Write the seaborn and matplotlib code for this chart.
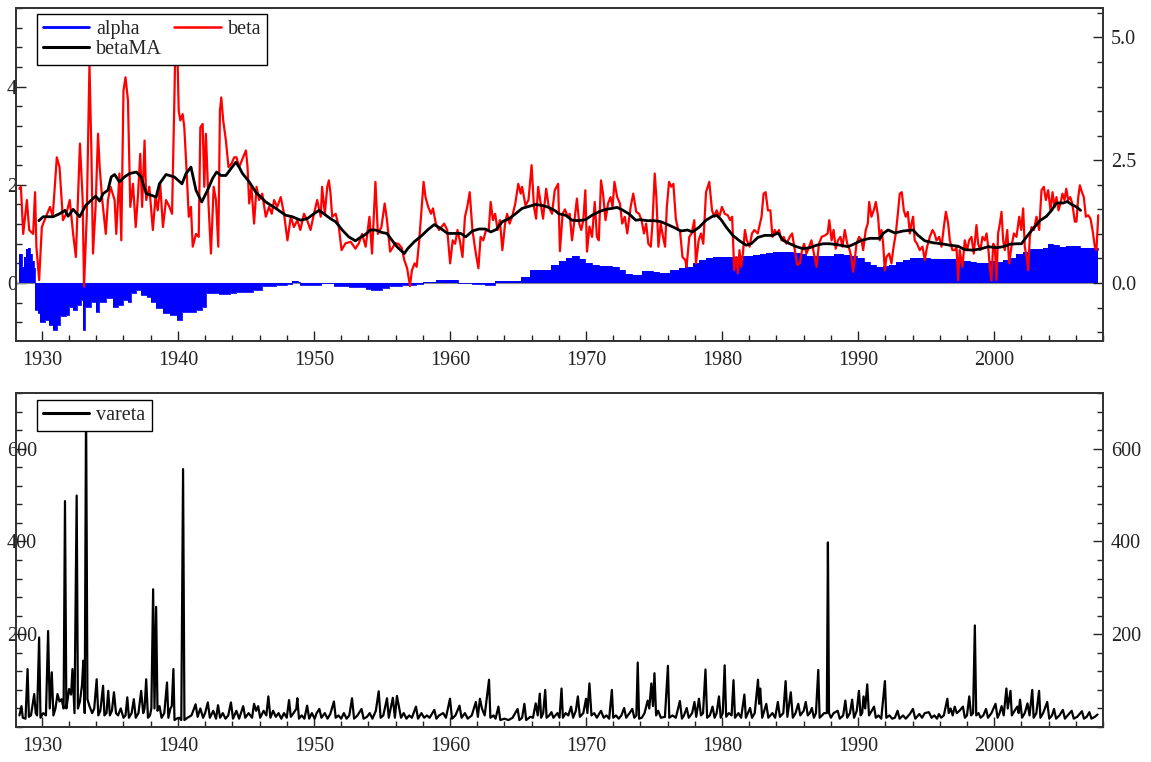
import matplotlib.pyplot as plt
import seaborn as sns
from matplotlib.ticker import MultipleLocator

# ---- data (decimal years) ----
beta_year = [
    1928.35, 1928.46, 1928.63, 1928.9, 1929.07, 1929.36, 1929.5, 1929.6, 1929.8, 1930.0,
    1930.3, 1930.6, 1930.8, 1931.1, 1931.3, 1931.55, 1931.8, 1932.05, 1932.3, 1932.5,
    1932.8, 1933.0, 1933.1, 1933.3, 1933.5, 1933.64, 1933.76, 1933.95, 1934.13, 1934.25,
    1934.44, 1934.7, 1934.86, 1935.05, 1935.35, 1935.47, 1935.7, 1935.84, 1936.0, 1936.15,
    1936.33, 1936.5, 1936.7, 1936.9, 1937.06, 1937.23, 1937.37, 1937.55, 1937.67, 1937.9,
    1938.16, 1938.35, 1938.52, 1938.7, 1938.9, 1939.13, 1939.38, 1939.57, 1939.74, 1939.82,
    1939.94, 1940.06, 1940.18, 1940.35, 1940.47, 1940.65, 1940.8, 1940.96, 1941.09, 1941.33,
    1941.53, 1941.65, 1941.82, 1941.94, 1942.06, 1942.26, 1942.43, 1942.63, 1942.8, 1942.97,
    1943.09, 1943.19, 1943.33, 1943.53, 1943.72, 1943.94, 1944.14, 1944.31, 1944.5, 1944.75,
    1945.0, 1945.12, 1945.24, 1945.4, 1945.6, 1945.78, 1945.97, 1946.2, 1946.46, 1946.7,
    1946.9, 1947.07, 1947.3, 1947.56, 1947.8, 1948.05, 1948.3, 1948.53, 1948.78, 1949.0,
    1949.27, 1949.5, 1949.75, 1950.0, 1950.24, 1950.5, 1950.6, 1950.8, 1950.98, 1951.1,
    1951.22, 1951.34, 1951.6, 1951.83, 1952.03, 1952.32, 1952.7, 1953.05, 1953.3, 1953.54,
    1953.8, 1954.08, 1954.27, 1954.52, 1954.7, 1954.96, 1955.2, 1955.37, 1955.6, 1955.98,
    1956.2, 1956.45, 1956.64, 1956.85, 1957.06, 1957.2, 1957.4, 1957.55, 1957.74, 1958.06,
    1958.2, 1958.4, 1958.6, 1958.75, 1958.96, 1959.2, 1959.57, 1959.8, 1960.01, 1960.2,
    1960.38, 1960.55, 1960.72, 1960.92, 1961.1, 1961.27, 1961.45, 1961.65, 1961.9, 1962.09,
    1962.25, 1962.45, 1962.65, 1962.85, 1962.99, 1963.16, 1963.32, 1963.5, 1963.67, 1963.85,
    1964.05, 1964.2, 1964.38, 1964.57, 1964.8, 1965.02, 1965.2, 1965.3, 1965.55, 1965.77,
    1966.0, 1966.17, 1966.33, 1966.48, 1966.65, 1966.84, 1967.07, 1967.26, 1967.5, 1967.7,
    1967.95, 1968.08, 1968.28, 1968.45, 1968.65, 1968.8, 1968.97, 1969.15, 1969.33, 1969.5,
    1969.65, 1969.8, 1969.95, 1970.07, 1970.25, 1970.44, 1970.64, 1970.8, 1970.94, 1971.1,
    1971.25, 1971.43, 1971.62, 1971.8, 1971.95, 1972.09, 1972.29, 1972.49, 1972.66, 1972.85,
    1973.03, 1973.28, 1973.47, 1973.69, 1973.9, 1974.08, 1974.26, 1974.42, 1974.58, 1974.76,
    1974.88, 1975.05, 1975.17, 1975.32, 1975.49, 1975.66, 1975.81, 1975.94, 1976.1, 1976.27,
    1976.42, 1976.6, 1976.77, 1976.9, 1977.09, 1977.29, 1977.39, 1977.59, 1977.76, 1977.96,
    1978.08, 1978.28, 1978.45, 1978.62, 1978.82, 1979.06, 1979.26, 1979.43, 1979.6, 1979.8,
    1979.99, 1980.2, 1980.42, 1980.59, 1980.74, 1980.89, 1981.04, 1981.16, 1981.28, 1981.4,
    1981.53, 1981.68, 1981.82, 1982.02, 1982.2, 1982.37, 1982.62, 1982.9, 1983.05, 1983.2,
    1983.37, 1983.55, 1983.7, 1983.87, 1983.99, 1984.19, 1984.36, 1984.53, 1984.73, 1984.98,
    1985.15, 1985.35, 1985.52, 1985.71, 1985.88, 1986.03, 1986.2, 1986.4, 1986.57, 1986.75,
    1986.95, 1987.12, 1987.32, 1987.56, 1987.76, 1987.88, 1988.05, 1988.2, 1988.35, 1988.52,
    1988.7, 1988.85, 1989.02, 1989.2, 1989.38, 1989.5, 1989.63, 1989.75, 1989.88, 1990.07,
    1990.25, 1990.37, 1990.56, 1990.71, 1990.81, 1990.98, 1991.15, 1991.3, 1991.47, 1991.59,
    1991.72, 1991.84, 1991.96, 1992.08, 1992.28, 1992.45, 1992.57, 1992.77, 1992.92, 1993.06,
    1993.21, 1993.36, 1993.5, 1993.65, 1993.8, 1993.92, 1994.04, 1994.16, 1994.33, 1994.53,
    1994.73, 1994.9, 1995.07, 1995.27, 1995.47, 1995.61, 1995.76, 1995.96, 1996.13, 1996.3,
    1996.45, 1996.62, 1996.74, 1996.93, 1997.11, 1997.23, 1997.35, 1997.47, 1997.67, 1997.84,
    1998.01, 1998.16, 1998.33, 1998.5, 1998.7, 1998.82, 1998.99, 1999.14, 1999.31, 1999.44,
    1999.56, 1999.68, 1999.8, 1999.93, 2000.05, 2000.17, 2000.29, 2000.42, 2000.54, 2000.66,
    2000.78, 2000.96, 2001.1, 2001.27, 2001.45, 2001.64, 2001.84, 2001.99, 2002.13, 2002.25,
    2002.38, 2002.5, 2002.62, 2002.75, 2002.92, 2003.11, 2003.31, 2003.48, 2003.65, 2003.8,
    2003.97, 2004.14, 2004.29, 2004.44, 2004.58, 2004.73, 2004.87, 2005.02, 2005.17, 2005.3,
    2005.44, 2005.59, 2005.74, 2005.93, 2006.05, 2006.18, 2006.3, 2006.45, 2006.59, 2006.74,
    2006.91, 2007.08, 2007.23, 2007.4, 2007.52, 2007.65,
]
beta = [
    1.92, 1.96, 1.0, 1.69, 1.08, 1.0, 1.85, 0.74, 0.06, 1.14,
    1.35, 1.55, 1.35, 2.56, 2.36, 1.28, 1.41, 1.69, 1.0, 0.53,
    2.84, 1.69, -0.07, 1.35, 4.46, 2.7, 0.6, 1.55, 3.04, 2.36,
    1.69, 1.0, 1.69, 1.96, 1.69, 1.0, 2.23, 0.87, 3.92, 4.19,
    3.72, 1.55, 2.02, 1.14, 1.75, 2.63, 1.55, 2.9, 1.69, 1.96,
    1.08, 1.75, 1.48, 2.02, 1.14, 1.69, 1.55, 1.41, 3.72, 4.93,
    5.0, 3.51, 3.31, 3.44, 3.17, 2.23, 1.35, 1.55, 0.74, 1.0,
    0.94, 3.17, 3.24, 1.96, 3.04, 1.55, 0.6, 1.96, 1.69, 0.74,
    3.51, 3.78, 3.31, 2.9, 2.36, 2.43, 2.56, 2.56, 2.36, 2.53,
    2.7, 2.36, 1.62, 1.96, 1.21, 1.96, 1.69, 1.82, 1.35, 1.55,
    1.41, 1.69, 1.55, 1.75, 1.41, 0.87, 1.35, 1.14, 1.28, 1.08,
    1.41, 1.28, 1.08, 1.41, 1.69, 1.35, 1.96, 1.41, 1.96, 2.09,
    1.82, 1.35, 1.41, 1.14, 0.67, 0.81, 0.84, 0.7, 0.81, 1.0,
    0.74, 1.35, 0.6, 2.06, 1.0, 1.14, 1.62, 1.28, 0.64, 0.81,
    0.8, 0.72, 0.47, 0.3, -0.06, 0.26, 0.4, 0.33, 0.87, 2.06,
    1.75, 1.55, 1.41, 1.52, 1.21, 1.08, 1.21, 1.08, 0.4, 0.87,
    0.8, 1.08, 0.87, 0.53, 1.35, 1.55, 1.85, 1.08, 0.6, 0.3,
    0.94, 0.87, 1.08, 1.08, 1.65, 1.28, 1.41, 1.08, 1.28, 0.67,
    1.21, 1.41, 1.21, 1.35, 1.62, 2.02, 1.82, 1.96, 1.58, 1.69,
    2.4, 1.55, 1.31, 1.96, 1.65, 1.31, 1.92, 1.55, 1.41, 1.89,
    2.02, 0.65, 1.41, 1.5, 1.35, 1.41, 0.87, 1.28, 1.72, 1.21,
    1.08, 1.28, 1.89, 0.64, 1.15, 0.94, 1.65, 0.94, 0.87, 2.09,
    1.82, 1.28, 1.62, 1.75, 1.55, 2.06, 1.75, 1.62, 1.21, 1.35,
    1.01, 1.55, 1.82, 1.45, 1.41, 1.28, 1.01, 1.21, 0.8, 0.74,
    1.21, 2.23, 1.75, 0.74, 1.21, 0.94, 0.74, 1.55, 2.06, 1.96,
    2.02, 1.31, 1.08, 1.08, 0.53, 0.47, 0.33, 0.94, 1.01, 1.28,
    0.4, 0.87, 1.01, 0.8, 1.85, 2.06, 1.48, 1.35, 1.48, 1.35,
    1.55, 1.41, 1.38, 1.28, 1.35, 0.26, 0.53, 0.2, 0.67, 0.33,
    0.6, 1.08, 0.87, 0.74, 1.01, 1.08, 1.01, 1.35, 1.82, 1.85,
    1.48, 1.48, 0.94, 1.08, 1.01, 1.08, 0.87, 0.94, 0.8, 0.94,
    1.01, 0.67, 0.37, 0.4, 0.67, 0.8, 0.6, 0.74, 0.87, 0.6,
    0.33, 0.8, 0.94, 0.97, 1.01, 1.28, 0.87, 1.08, 0.7, 0.87,
    0.94, 0.74, 1.08, 0.8, 0.67, 0.53, 0.23, 0.47, 0.8, 0.94,
    0.87, 0.67, 1.08, 1.21, 1.65, 1.35, 1.48, 1.65, 1.35, 0.87,
    1.08, 0.8, 0.26, 0.53, 0.6, 0.4, 0.67, 1.01, 1.41, 1.82,
    1.85, 1.48, 1.35, 1.45, 1.01, 1.21, 1.35, 0.87, 0.8, 0.67,
    0.74, 0.47, 0.74, 0.94, 1.08, 1.01, 0.87, 0.94, 0.74, 1.14,
    1.45, 1.21, 0.87, 0.67, 0.67, 0.74, 0.06, 0.67, 0.33, 0.87,
    0.67, 0.87, 0.94, 0.6, 1.18, 0.8, 0.67, 0.94, 0.87, 1.01,
    0.74, 0.33, 0.05, 0.8, 0.74, 0.06, 1.01, 1.21, 1.45, 0.87,
    0.67, 1.08, 0.4, 0.74, 1.01, 0.94, 1.35, 1.08, 1.52, 0.74,
    0.53, 0.26, 0.94, 1.14, 1.08, 1.35, 1.08, 1.89, 1.96, 1.69,
    1.89, 1.48, 1.85, 1.55, 1.75, 1.48, 1.62, 1.82, 1.69, 1.92,
    1.69, 1.75, 1.62, 1.25, 1.25, 1.75, 1.99, 1.85, 1.75, 1.35,
    1.38, 1.31, 1.08, 0.74, 0.67, 1.38,
]

ma_year = [
    1929.78, 1930.1, 1930.83, 1931.3, 1931.7, 1931.93, 1932.3, 1932.78, 1933.22, 1933.64,
    1933.96, 1934.25, 1934.5, 1934.86, 1935.1, 1935.35, 1935.7, 1936.07, 1936.45, 1936.94,
    1937.3, 1937.67, 1938.03, 1938.4, 1938.64, 1939.13, 1939.74, 1940.3, 1940.6, 1940.96,
    1941.33, 1941.75, 1942.18, 1942.55, 1942.84, 1943.16, 1943.53, 1943.9, 1944.26, 1944.5,
    1944.75, 1945.24, 1945.73, 1946.46, 1947.2, 1947.92, 1948.41, 1949.02, 1949.5, 1950.0,
    1950.37, 1950.73, 1951.22, 1951.59, 1952.08, 1952.56, 1953.05, 1953.42, 1953.79, 1954.15,
    1954.52, 1955.0, 1955.37, 1955.74, 1956.1, 1956.64, 1956.89, 1957.37, 1957.86, 1958.35,
    1958.84, 1959.33, 1959.82, 1960.3, 1960.8, 1961.16, 1961.65, 1962.14, 1962.6, 1963.0,
    1963.4, 1963.85, 1964.33, 1964.82, 1965.3, 1965.8, 1966.29, 1966.78, 1967.26, 1967.75,
    1968.0, 1968.5, 1968.97, 1969.45, 1969.95, 1970.44, 1970.94, 1971.43, 1971.92, 1972.29,
    1972.66, 1973.15, 1973.65, 1974.0, 1974.5, 1975.0, 1975.49, 1976.0, 1976.48, 1976.97,
    1977.46, 1977.83, 1978.33, 1978.82, 1979.31, 1979.6, 1979.93, 1980.3, 1980.79, 1981.28,
    1981.77, 1982.14, 1982.64, 1983.13, 1983.74, 1984.11, 1984.48, 1984.98, 1985.47, 1985.96,
    1986.45, 1986.95, 1987.44, 1987.93, 1988.5, 1989.26, 1989.75, 1990.25, 1990.86, 1991.6,
    1991.84, 1992.2, 1992.7, 1993.31, 1994.04, 1994.41, 1994.9, 1995.51, 1996.13, 1996.74,
    1997.35, 1997.84, 1998.46, 1999.07, 1999.56, 2000.17, 2000.66, 2001.15, 2001.64, 2002.01,
    2002.38, 2002.87, 2003.36, 2003.85, 2004.22, 2004.58, 2005.07, 2005.37, 2005.69, 2006.05,
    2006.35,
]
beta_ma = [
    1.27, 1.35, 1.35, 1.41, 1.48, 1.36, 1.5, 1.35, 1.58, 1.69,
    1.77, 1.67, 1.82, 1.89, 2.16, 2.21, 2.06, 2.16, 2.23, 2.26,
    2.16, 1.82, 1.79, 1.75, 2.02, 2.21, 2.16, 2.02, 2.23, 2.36,
    1.89, 1.65, 1.89, 2.13, 2.26, 2.19, 2.19, 2.33, 2.46, 2.36,
    2.23, 2.06, 1.85, 1.65, 1.52, 1.38, 1.35, 1.28, 1.31, 1.41,
    1.48, 1.41, 1.31, 1.25, 1.08, 0.94, 0.86, 0.93, 0.99, 1.08,
    1.08, 1.03, 1.01, 0.87, 0.74, 0.6, 0.7, 0.84, 0.95, 1.08,
    1.19, 1.11, 1.01, 1.01, 1.01, 0.94, 1.06, 1.1, 1.1, 1.04,
    1.09, 1.25, 1.31, 1.41, 1.52, 1.56, 1.6, 1.58, 1.54, 1.47,
    1.41, 1.38, 1.28, 1.27, 1.29, 1.38, 1.45, 1.5, 1.52, 1.54,
    1.49, 1.41, 1.28, 1.29, 1.27, 1.27, 1.25, 1.19, 1.13, 1.06,
    1.08, 1.04, 1.14, 1.28, 1.36, 1.38, 1.29, 1.14, 0.97, 0.86,
    0.77, 0.8, 0.93, 0.97, 0.97, 1.02, 0.87, 0.8, 0.74, 0.7,
    0.72, 0.77, 0.8, 0.8, 0.78, 0.74, 0.8, 0.87, 0.91, 0.91,
    1.01, 1.08, 1.02, 1.06, 1.08, 0.97, 0.86, 0.82, 0.8, 0.77,
    0.75, 0.68, 0.67, 0.7, 0.74, 0.72, 0.74, 0.79, 0.8, 0.8,
    0.94, 1.11, 1.27, 1.36, 1.48, 1.63, 1.63, 1.66, 1.6, 1.55,
    1.48,
]

alpha_year = [
    1928.35, 1928.55, 1928.7, 1928.85, 1929.0, 1929.15, 1929.3, 1929.4, 1929.52, 1929.7,
    1929.9, 1930.2, 1930.5, 1930.8, 1931.1, 1931.3, 1931.8, 1932.0, 1932.3, 1932.6,
    1932.9, 1933.05, 1933.2, 1933.6, 1934.0, 1934.2, 1934.7, 1935.2, 1935.6, 1936.0,
    1936.3, 1936.57, 1936.9, 1937.3, 1937.7, 1938.0, 1938.4, 1938.9, 1939.4, 1939.9,
    1940.3, 1940.8, 1941.33, 1941.8, 1942.06, 1943.0, 1943.8, 1944.3, 1945.0, 1945.5,
    1946.2, 1947.2, 1948.0, 1948.4, 1948.8, 1949.0, 1950.5, 1951.5, 1952.6, 1953.8,
    1954.2, 1955.0, 1955.5, 1956.5, 1957.5, 1958.0, 1959.0, 1960.6, 1961.6, 1962.6,
    1963.0, 1963.3, 1965.2, 1965.9, 1967.4, 1968.0, 1968.5, 1969.0, 1969.5, 1969.95,
    1970.44, 1970.94, 1971.9, 1972.4, 1972.9, 1973.4, 1974.1, 1974.9, 1975.4, 1976.2,
    1976.85, 1977.3, 1977.83, 1978.3, 1978.8, 1979.3, 1980.3, 1981.3, 1982.3, 1982.8,
    1983.25, 1983.75, 1984.7, 1985.2, 1985.7, 1986.2, 1986.7, 1987.7, 1988.2, 1988.9,
    1989.4, 1989.9, 1990.4, 1990.86, 1991.35, 1991.84, 1992.3, 1992.8, 1993.3, 1993.8,
    1994.3, 1994.8, 1995.27, 1996.25, 1997.2, 1997.7, 1998.2, 1998.7, 1999.2, 1999.7,
    2000.17, 2000.66, 2001.15, 2001.64, 2002.1, 2002.6, 2003.6, 2003.97, 2004.3, 2004.8,
    2005.3, 2006.3, 2007.3, 2007.65,
]
alpha = [
    0.6, 0.33, 0.53, 0.7, 0.72, 0.6, 0.45, 0.3, -0.55, -0.62,
    -0.79, -0.75, -0.85, -0.95, -0.85, -0.68, -0.65, -0.48, -0.55, -0.45,
    -0.35, -0.95, -0.48, -0.38, -0.58, -0.38, -0.31, -0.48, -0.45, -0.35,
    -0.38, -0.21, -0.14, -0.24, -0.28, -0.38, -0.51, -0.62, -0.65, -0.76,
    -0.58, -0.58, -0.55, -0.48, -0.21, -0.22, -0.21, -0.18, -0.18, -0.14,
    -0.07, -0.04, -0.02, 0.05, 0.03, -0.03, 0.0, -0.06, -0.08, -0.13,
    -0.15, -0.1, -0.07, -0.05, -0.01, 0.03, 0.06, 0.0, -0.02, -0.03,
    -0.05, 0.04, 0.12, 0.26, 0.36, 0.45, 0.5, 0.55, 0.48, 0.41,
    0.37, 0.35, 0.33, 0.26, 0.18, 0.16, 0.25, 0.23, 0.21, 0.26,
    0.3, 0.33, 0.4, 0.47, 0.52, 0.53, 0.53, 0.55, 0.57, 0.59,
    0.62, 0.64, 0.63, 0.62, 0.59, 0.56, 0.55, 0.56, 0.6, 0.57,
    0.55, 0.5, 0.43, 0.37, 0.33, 0.35, 0.37, 0.43, 0.47, 0.5,
    0.52, 0.5, 0.48, 0.49, 0.47, 0.45, 0.43, 0.4, 0.41, 0.45,
    0.43, 0.47, 0.52, 0.59, 0.64, 0.7, 0.72, 0.79, 0.77, 0.74,
    0.75, 0.72, 0.72, 0.67,
]

var_year = [
    1928.35, 1928.5, 1928.6, 1928.8, 1928.95, 1929.05, 1929.2, 1929.44, 1929.55, 1929.65,
    1929.8, 1929.9, 1930.1, 1930.3, 1930.46, 1930.58, 1930.73, 1930.85, 1931.0, 1931.15,
    1931.3, 1931.45, 1931.6, 1931.7, 1931.8, 1931.9, 1932.0, 1932.15, 1932.25, 1932.4,
    1932.56, 1932.65, 1932.8, 1932.95, 1933.05, 1933.15, 1933.25, 1933.35, 1933.5, 1933.7,
    1933.85, 1934.03, 1934.15, 1934.3, 1934.5, 1934.6, 1934.75, 1934.88, 1935.0, 1935.15,
    1935.3, 1935.45, 1935.6, 1935.8, 1936.0, 1936.15, 1936.28, 1936.4, 1936.6, 1936.76,
    1936.9, 1937.1, 1937.3, 1937.45, 1937.55, 1937.67, 1937.8, 1937.95, 1938.05, 1938.18,
    1938.28, 1938.4, 1938.5, 1938.65, 1938.8, 1939.0, 1939.2, 1939.3, 1939.45, 1939.55,
    1939.67, 1939.75, 1939.9, 1940.1, 1940.25, 1940.38, 1940.48, 1940.7, 1941.0, 1941.3,
    1941.45, 1941.65, 1941.85, 1942.0, 1942.2, 1942.35, 1942.6, 1942.8, 1942.95, 1943.1,
    1943.3, 1943.5, 1943.7, 1943.9, 1944.05, 1944.3, 1944.5, 1944.8, 1944.95, 1945.2,
    1945.45, 1945.6, 1945.75, 1945.9, 1946.05, 1946.3, 1946.5, 1946.65, 1946.8, 1947.0,
    1947.2, 1947.4, 1947.6, 1947.8, 1948.0, 1948.17, 1948.3, 1948.5, 1948.7, 1948.78,
    1948.9, 1949.1, 1949.3, 1949.5, 1949.65, 1949.85, 1950.05, 1950.2, 1950.4, 1950.55,
    1950.8, 1951.0, 1951.2, 1951.47, 1951.6, 1951.8, 1952.0, 1952.2, 1952.4, 1952.6,
    1952.8, 1952.95, 1953.2, 1953.5, 1953.65, 1953.9, 1954.1, 1954.3, 1954.55, 1954.76,
    1954.9, 1955.1, 1955.37, 1955.5, 1955.8, 1955.95, 1956.1, 1956.25, 1956.4, 1956.6,
    1956.8, 1957.0, 1957.2, 1957.5, 1957.65, 1957.9, 1958.1, 1958.3, 1958.5, 1958.85,
    1959.0, 1959.2, 1959.5, 1959.7, 1960.0, 1960.15, 1960.4, 1960.7, 1960.85, 1961.1,
    1961.3, 1961.6, 1961.9, 1962.05, 1962.2, 1962.35, 1962.55, 1962.87, 1962.97, 1963.2,
    1963.35, 1963.56, 1963.7, 1964.0, 1964.3, 1964.6, 1964.97, 1965.1, 1965.3, 1965.47,
    1965.6, 1965.9, 1966.1, 1966.3, 1966.45, 1966.6, 1966.7, 1966.85, 1967.0, 1967.1,
    1967.3, 1967.46, 1967.6, 1967.9, 1968.05, 1968.2, 1968.3, 1968.5, 1968.7, 1968.9,
    1969.05, 1969.25, 1969.4, 1969.55, 1969.8, 1970.0, 1970.1, 1970.25, 1970.4, 1970.6,
    1970.8, 1971.1, 1971.3, 1971.5, 1971.7, 1971.9, 1972.0, 1972.2, 1972.4, 1972.6,
    1972.8, 1972.95, 1973.2, 1973.4, 1973.55, 1973.7, 1973.8, 1973.9, 1974.1, 1974.3,
    1974.53, 1974.65, 1974.8, 1974.92, 1975.03, 1975.15, 1975.3, 1975.5, 1975.8, 1976.02,
    1976.12, 1976.35, 1976.6, 1976.9, 1977.05, 1977.2, 1977.4, 1977.55, 1977.8, 1977.97,
    1978.1, 1978.3, 1978.45, 1978.6, 1978.78, 1978.9, 1979.1, 1979.3, 1979.45, 1979.6,
    1979.77, 1979.9, 1980.05, 1980.19, 1980.3, 1980.5, 1980.7, 1980.84, 1980.95, 1981.2,
    1981.4, 1981.64, 1981.75, 1982.06, 1982.2, 1982.4, 1982.64, 1982.72, 1982.8, 1982.95,
    1983.25, 1983.4, 1983.7, 1983.9, 1984.1, 1984.25, 1984.5, 1984.67, 1984.8, 1985.05,
    1985.2, 1985.4, 1985.6, 1985.75, 1986.0, 1986.15, 1986.3, 1986.45, 1986.6, 1986.75,
    1986.9, 1987.07, 1987.17, 1987.35, 1987.5, 1987.7, 1987.78, 1987.86, 1988.0, 1988.2,
    1988.5, 1988.65, 1988.9, 1989.06, 1989.2, 1989.4, 1989.56, 1989.7, 1989.9, 1990.06,
    1990.18, 1990.3, 1990.4, 1990.52, 1990.67, 1990.8, 1991.0, 1991.17, 1991.3, 1991.5,
    1991.7, 1991.97, 1992.07, 1992.3, 1992.5, 1992.7, 1992.9, 1993.05, 1993.3, 1993.5,
    1993.8, 1994.03, 1994.2, 1994.5, 1994.7, 1994.9, 1995.2, 1995.4, 1995.6, 1995.8,
    1995.94, 1996.1, 1996.3, 1996.56, 1996.66, 1996.8, 1996.95, 1997.1, 1997.25, 1997.45,
    1997.7, 1997.85, 1998.0, 1998.17, 1998.3, 1998.45, 1998.58, 1998.68, 1998.85, 1999.0,
    1999.2, 1999.4, 1999.55, 1999.8, 2000.1, 2000.25, 2000.4, 2000.55, 2000.7, 2000.9,
    2001.0, 2001.2, 2001.3, 2001.5, 2001.7, 2001.8, 2001.9, 2002.05, 2002.25, 2002.45,
    2002.6, 2002.8, 2002.9, 2003.1, 2003.3, 2003.4, 2003.6, 2003.9, 2004.05, 2004.25,
    2004.4, 2004.55, 2004.8, 2005.05, 2005.2, 2005.4, 2005.7, 2005.85, 2006.1, 2006.45,
    2006.6, 2006.8, 2007.0, 2007.15, 2007.4, 2007.6,
]
vareta = [
    25, 45, 20, 18, 125, 22, 25, 71, 30, 25,
    193, 20, 30, 25, 207, 40, 118, 25, 40, 71,
    55, 60, 40, 487, 40, 60, 82, 70, 125, 30,
    499, 40, 55, 90, 143, 30, 698, 60, 45, 30,
    40, 103, 25, 35, 89, 25, 30, 78, 25, 35,
    75, 30, 25, 40, 20, 25, 64, 20, 30, 60,
    20, 30, 78, 30, 40, 103, 20, 25, 40, 297,
    40, 259, 35, 45, 20, 30, 96, 20, 40, 45,
    125, 15, 18, 20, 15, 556, 15, 20, 25, 49,
    22, 40, 20, 30, 53, 20, 35, 18, 47, 20,
    30, 18, 25, 53, 18, 35, 18, 45, 20, 30,
    20, 50, 35, 45, 20, 35, 25, 66, 20, 35,
    22, 30, 18, 30, 20, 58, 22, 30, 39, 62,
    18, 25, 18, 46, 18, 30, 18, 30, 39, 20,
    30, 18, 28, 55, 20, 25, 18, 30, 18, 25,
    62, 18, 25, 39, 18, 22, 30, 18, 35, 77,
    20, 25, 62, 20, 63, 20, 67, 44, 20, 30,
    18, 25, 20, 44, 18, 30, 20, 25, 20, 37,
    18, 25, 30, 20, 61, 18, 25, 46, 20, 30,
    18, 25, 54, 22, 61, 40, 25, 102, 20, 25,
    18, 44, 15, 18, 15, 20, 39, 15, 20, 50,
    15, 22, 20, 51, 25, 72, 20, 30, 80, 20,
    25, 32, 20, 30, 20, 83, 20, 30, 25, 44,
    20, 35, 66, 22, 30, 61, 30, 94, 25, 30,
    20, 35, 20, 25, 18, 80, 20, 25, 18, 25,
    41, 20, 30, 39, 20, 25, 139, 18, 20, 30,
    57, 40, 94, 45, 116, 25, 35, 20, 22, 132,
    20, 25, 20, 56, 18, 25, 41, 20, 30, 54,
    22, 61, 25, 30, 124, 20, 25, 44, 20, 30,
    66, 20, 30, 133, 22, 30, 25, 101, 20, 30,
    20, 70, 20, 41, 20, 30, 102, 50, 83, 20,
    50, 20, 30, 20, 54, 22, 30, 99, 22, 75,
    20, 30, 50, 25, 35, 54, 25, 30, 41, 20,
    30, 123, 20, 25, 30, 30, 398, 30, 20, 30,
    35, 18, 25, 57, 20, 30, 59, 20, 35, 78,
    25, 30, 66, 40, 92, 25, 35, 44, 20, 25,
    18, 99, 20, 25, 18, 20, 35, 18, 25, 18,
    28, 39, 18, 28, 20, 30, 32, 20, 25, 18,
    28, 20, 25, 61, 30, 40, 25, 44, 30, 35,
    44, 20, 25, 66, 25, 30, 219, 25, 30, 20,
    25, 39, 20, 30, 50, 20, 30, 45, 25, 83,
    40, 78, 25, 35, 44, 30, 59, 20, 30, 51,
    25, 80, 20, 30, 78, 20, 30, 54, 18, 25,
    39, 18, 25, 37, 18, 25, 35, 18, 22, 34,
    18, 22, 32, 18, 22, 27,
]

# ---- figure ----
sns.set_style('ticks')
plt.rcParams['font.family'] = ['Liberation Serif', 'DejaVu Serif']

fig = plt.figure(figsize=(11.51, 7.62), dpi=100)
ax_top = fig.add_axes([0.0139, 0.5525, 0.9444, 0.437])
ax_bot = fig.add_axes([0.0139, 0.0459, 0.9444, 0.4383])

# top panel: alpha area, beta, betaMA
ax_top.axhline(0, color='#888888', lw=0.8, zorder=1)
ax_top.fill_between(alpha_year, alpha, step='post', color='#0000ff', lw=0, zorder=2)
sns.lineplot(x=alpha_year, y=alpha, ax=ax_top, color='#0000ff', linewidth=0.6,
             drawstyle='steps-post', estimator=None, sort=False, label='alpha', zorder=2)
sns.lineplot(x=beta_year, y=beta, ax=ax_top, color='#ff0000', linewidth=1.6,
             estimator=None, sort=False, label='beta', zorder=3)
sns.lineplot(x=ma_year, y=beta_ma, ax=ax_top, color='black', linewidth=2.0,
             estimator=None, sort=False, label='betaMA', zorder=4)

# bottom panel: vareta
sns.lineplot(x=var_year, y=vareta, ax=ax_bot, color='black', linewidth=1.6,
             estimator=None, sort=False, label='vareta')

ax_top.set_ylim(-1.18, 5.6)
ax_bot.set_ylim(0, 720)

for ax in (ax_top, ax_bot):
    ax.set_xlim(1928.1, 2008.0)
    ax.set_xlabel('')
    ax.set_ylabel('')
    ax.xaxis.set_major_locator(MultipleLocator(10))
    ax.xaxis.set_minor_locator(MultipleLocator(2))
    ax.tick_params(axis='both', which='both', direction='in', top=False, right=False,
                   labelsize=14.5, width=1, colors='#222222')
    ax.tick_params(which='major', length=7)
    ax.tick_params(which='minor', length=4)
    ax.tick_params(axis='x', pad=7)
    ax.tick_params(axis='y', pad=6.5)
    for sp in ax.spines.values():
        sp.set_visible(True)
        sp.set_color('#333333')
        sp.set_linewidth(1.3)

ax_top.set_yticks([0, 2, 4])
ax_top.yaxis.set_minor_locator(MultipleLocator(0.4))
ax_bot.set_yticks([200, 400, 600])
ax_bot.yaxis.set_minor_locator(MultipleLocator(40))

# right-hand axes
tw_top = ax_top.twinx()
tw_top.set_ylim(ax_top.get_ylim())
tw_top.set_yticks([0, 2.5, 5.0], labels=['0.0', '2.5', '5.0'])
tw_top.yaxis.set_minor_locator(MultipleLocator(0.5))

tw_bot = ax_bot.twinx()
tw_bot.set_ylim(ax_bot.get_ylim())
tw_bot.set_yticks([200, 400, 600], labels=['200', '400', '600'])
tw_bot.yaxis.set_minor_locator(MultipleLocator(40))

for tw in (tw_top, tw_bot):
    tw.tick_params(axis='y', which='both', direction='in', right=True, left=False,
                   labelsize=14.5, width=1, pad=5.8, colors='#222222')
    tw.tick_params(which='major', length=7)
    tw.tick_params(which='minor', length=4)
    for sp in tw.spines.values():
        sp.set_visible(True)
        sp.set_color('#333333')
        sp.set_linewidth(1.3)

# legends
h, l = ax_top.get_legend_handles_labels()
order = [l.index('alpha'), l.index('betaMA'), l.index('beta')]
leg = ax_top.legend([h[i] for i in order], [l[i] for i in order], ncol=2,
                    loc='upper left', bbox_to_anchor=(0.0193, 0.982), borderaxespad=0,
                    fontsize=14.5, frameon=True, fancybox=False, framealpha=1,
                    edgecolor='black', handlelength=2.3, handletextpad=0.35,
                    columnspacing=0.6, labelspacing=0.05, borderpad=0.3)
leg.get_frame().set_linewidth(1.0)
for line, w in zip(leg.get_lines(), (2.0, 2.2, 1.8)):
    line.set_linewidth(w)

leg2 = ax_bot.legend(loc='upper left', bbox_to_anchor=(0.0193, 0.979), borderaxespad=0,
                     fontsize=14.5, frameon=True, fancybox=False, framealpha=1,
                     edgecolor='black', handlelength=2.3, handletextpad=0.35,
                     borderpad=0.3)
leg2.get_frame().set_linewidth(1.0)
for line in leg2.get_lines():
    line.set_linewidth(2.2)

# left labels sit left-aligned over the spine like the original
for ax in (ax_top, ax_bot):
    for lbl in ax.get_yticklabels():
        lbl.set_horizontalalignment('left')

fig.savefig('out.png', dpi=100)
